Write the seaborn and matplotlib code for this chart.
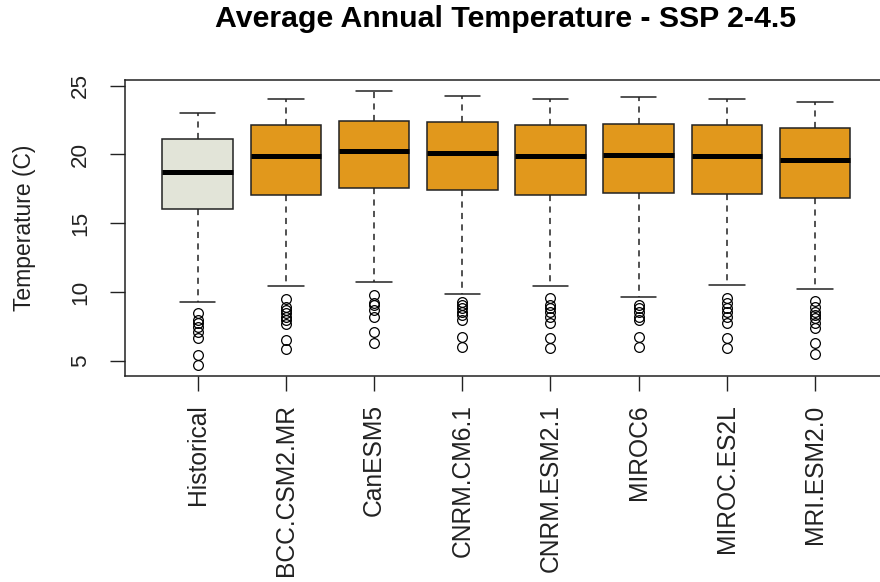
import matplotlib
matplotlib.use("Agg")
import matplotlib.pyplot as plt
import seaborn as sns

# Summary statistics per model (degrees C)
models = ["Historical", "BCC.CSM2.MR", "CanESM5", "CNRM.CM6.1",
          "CNRM.ESM2.1", "MIROC6", "MIROC.ES2L", "MRI.ESM2.0"]
whisker_low = [9.29, 10.41, 10.75, 9.85, 10.41, 9.63, 10.53, 10.19]
q1 = [16.03, 17.05, 17.54, 17.39, 17.05, 17.17, 17.15, 16.83]
median = [18.75, 19.89, 20.23, 20.11, 19.87, 19.98, 19.87, 19.57]
q3 = [21.10, 22.12, 22.45, 22.34, 22.12, 22.24, 22.12, 21.90]
whisker_high = [23.04, 24.03, 24.59, 24.27, 24.03, 24.15, 24.03, 23.81]
outliers = [
    [8.45, 7.96, 7.72, 7.47, 7.11, 6.63, 5.41, 4.69],
    [9.47, 8.93, 8.69, 8.45, 8.20, 7.96, 7.67, 6.50, 5.83],
    [9.78, 9.17, 9.05, 8.69, 8.20, 7.11, 6.26],
    [9.29, 9.05, 8.81, 8.56, 8.32, 7.96, 6.75, 6.02],
    [9.54, 9.05, 8.81, 8.56, 8.20, 7.72, 6.63, 5.90],
    [9.05, 8.81, 8.56, 8.20, 7.96, 6.75, 6.02],
    [9.54, 9.17, 8.81, 8.56, 8.20, 7.72, 6.63, 5.90],
    [9.36, 8.93, 8.56, 8.32, 8.08, 7.72, 7.36, 6.26, 5.49],
]
box_colors = ["#E2E4D8"] + ["#E1981C"] * 7

sns.set_theme(style="white")
plt.rcParams["font.family"] = ["Liberation Sans", "DejaVu Sans"]

fig = plt.figure(figsize=(8.8, 5.82), dpi=100)
ax = fig.add_axes([125 / 880, 1 - 376 / 582, 762 / 880, 296 / 582])

stats = []
for i, name in enumerate(models):
    stats.append(dict(label=name, whislo=whisker_low[i], q1=q1[i], med=median[i],
                      q3=q3[i], whishi=whisker_high[i], fliers=outliers[i]))

bp = ax.bxp(
    stats, positions=range(1, len(models) + 1), widths=0.8, patch_artist=True,
    showfliers=True,
    boxprops=dict(edgecolor="#222222", linewidth=1.1),
    medianprops=dict(color="black", linewidth=3.6, solid_capstyle="butt"),
    whiskerprops=dict(color="#222222", linewidth=1.1, linestyle=(0, (4, 3.5))),
    capprops=dict(color="#222222", linewidth=1.1),
    capwidths=0.4,
    flierprops=dict(marker="o", markersize=7, markerfacecolor="none",
                    markeredgecolor="black", markeredgewidth=0.9, linestyle="none"),
)
for patch, c in zip(bp["boxes"], box_colors):
    patch.set_facecolor(c)

ax.set_xlim(0.176, 8.815)
ax.set_ylim(3.89, 25.41)
ax.set_yticks([5, 10, 15, 20, 25])
ax.set_yticklabels(["5", "10", "15", "20", "25"], rotation=90, va="center")
ax.set_xticks(range(1, len(models) + 1))
ax.set_xticklabels(models, rotation=90)

ax.tick_params(axis="both", which="both", direction="out", length=10.5, width=1.0,
               color="#222222", labelcolor="#222222", left=True, bottom=True)
ax.tick_params(axis="y", pad=14, labelsize=16.2)
ax.tick_params(axis="x", pad=10, labelsize=17.7)
for s in ax.spines.values():
    s.set_color("#222222")
    s.set_linewidth(1.1)
    s.set_visible(True)

fig.text(24 / 880, 1 - 228 / 582, "Temperature (C)", rotation=90,
         ha="center", va="center", fontsize=16.5, color="#222222")
fig.text(506 / 880, 1 - 27 / 582, "Average Annual Temperature - SSP 2-4.5",
         ha="center", va="baseline", fontsize=21.8, fontweight="bold", color="black")

fig.savefig("out.png", dpi=100)
